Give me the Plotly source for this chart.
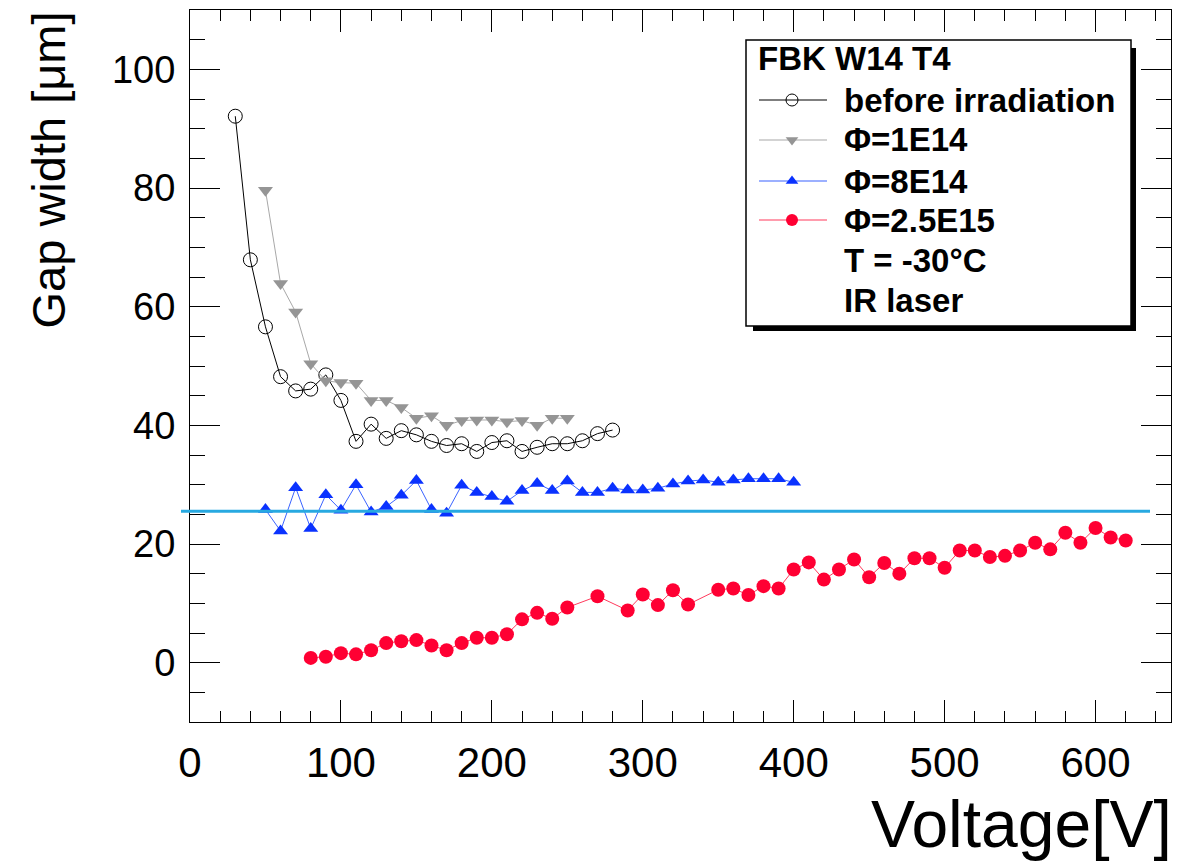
import plotly.graph_objects as go

# Gap width vs. bias voltage for FBK W14 T4 at several fluences
volt_before = [30, 40, 50, 60, 70, 80, 90, 100, 110, 120, 130, 140, 150, 160,
               170, 180, 190, 200, 210, 220, 230, 240, 250, 260, 270, 280]
gap_before = [92.1, 67.9, 56.6, 48.2, 45.8, 46.1, 48.5, 44.2, 37.3, 40.2, 37.8,
              39.1, 38.4, 37.3, 36.6, 36.9, 35.6, 37.1, 37.4, 35.6, 36.3, 36.9,
              36.9, 37.4, 38.6, 39.2]

volt_1e14 = [50, 60, 70, 80, 90, 100, 110, 120, 130, 140, 150, 160, 170, 180,
             190, 200, 210, 220, 230, 240, 250]
gap_1e14 = [79.6, 63.9, 59.1, 50.4, 47.5, 47.2, 47.1, 44.2, 44.2, 43.0, 41.2,
            41.6, 40.0, 40.8, 40.9, 40.9, 40.6, 40.8, 40.0, 41.2, 41.2]

volt_8e14 = [50, 60, 70, 80, 90, 100, 110, 120, 130, 140, 150, 160, 170, 180,
             190, 200, 210, 220, 230, 240, 250, 260, 270, 280, 290, 300, 310,
             320, 330, 340, 350, 360, 370, 380, 390, 400]
gap_8e14 = [25.8, 22.2, 29.5, 22.6, 28.3, 25.7, 30.0, 25.4, 26.3, 28.2, 30.7,
            25.8, 25.2, 29.9, 28.7, 28.0, 27.2, 29.0, 30.2, 29.0, 30.6, 28.7,
            28.7, 29.4, 29.1, 29.1, 29.4, 30.1, 30.6, 30.8, 30.4, 30.8, 31.0,
            31.0, 31.0, 30.4]

volt_25e15 = [80, 90, 100, 110, 120, 130, 140, 150, 160, 170, 180, 190, 200,
              210, 220, 230, 240, 250, 270, 290, 300, 310, 320, 330, 350, 360,
              370, 380, 390, 400, 410, 420, 430, 440, 450, 460, 470, 480, 490,
              500, 510, 520, 530, 540, 550, 560, 570, 580, 590, 600, 610, 620]
gap_25e15 = [0.8, 1.0, 1.6, 1.4, 2.1, 3.3, 3.6, 3.8, 2.9, 2.1, 3.3, 4.2, 4.2,
             4.8, 7.3, 8.4, 7.4, 9.3, 11.2, 8.8, 11.5, 9.7, 12.2, 9.8, 12.3,
             12.5, 11.4, 12.9, 12.5, 15.7, 16.9, 14.0, 15.7, 17.4, 14.4, 16.8,
             15.0, 17.6, 17.6, 16.0, 18.9, 18.9, 17.8, 18.0, 18.9, 20.2, 19.1,
             21.9, 20.2, 22.7, 21.1, 20.6]

# reference level drawn across the frame
ref_gap = 25.5

x_tick_vals = [0, 100, 200, 300, 400, 500, 600]
y_tick_vals = [0, 20, 40, 60, 80, 100]
x_range = [0, 650]
y_range = [-10, 110]

legend_title = "FBK W14 T4"
legend_names = ["before irradiation", "Φ=1E14", "Φ=8E14", "Φ=2.5E15"]
legend_notes = ["T = -30°C", "IR laser"]

# canvas / frame geometry (pixels)
W, H = 1178, 861
ML, MR, MT, MB = 190, 7, 10, 139
FX0, FX1 = ML, W - MR
FY0, FY1 = MT, H - MB


def px(x):
    """pixel column -> paper x"""
    return (x - FX0) / (FX1 - FX0)


def py(y):
    """pixel row -> paper y"""
    return (FY1 - y) / (FY1 - FY0)


SANS = "Liberation Sans, Arial, Helvetica, sans-serif"

styles = [
    dict(line=dict(color="#000000", width=1),
         marker=dict(symbol="circle-open", size=14, color="#000000",
                     line=dict(color="#000000", width=1))),
    dict(line=dict(color="#a8a8a8", width=1),
         marker=dict(symbol="triangle-down", size=13, color="#959595",
                     line=dict(width=0))),
    dict(line=dict(color="#3a63ff", width=1),
         marker=dict(symbol="triangle-up", size=13, color="#0a32ff",
                     line=dict(width=0))),
    dict(line=dict(color="#ff3a5c", width=1),
         marker=dict(symbol="circle", size=14, color="#ff0033",
                     line=dict(width=0))),
]

series = [(volt_before, gap_before), (volt_1e14, gap_1e14),
          (volt_8e14, gap_8e14), (volt_25e15, gap_25e15)]

fig = go.Figure()
for (vx, gy), st, name in zip(series, styles, legend_names):
    fig.add_trace(go.Scatter(x=vx, y=gy, mode="lines+markers", name=name,
                             line=st["line"], marker=st["marker"],
                             showlegend=False, cliponaxis=False))

# ---- legend box (pixel-space overlay x2/y2 for the glyph markers) ----
LX0, LY0, LX1, LY1 = 746, 40, 1131, 326
SHADOW = 5
row_y = [100, 140, 181, 220, 260, 300]
sample_x0, sample_x1, sample_mid = 759, 827, 792
text_x = 842

shapes = []
annotations = []

# horizontal reference line
yfrac = (ref_gap - y_range[0]) / (y_range[1] - y_range[0])
shapes.append(dict(type="line", xref="paper", yref="paper",
                   x0=px(181), x1=px(1150), y0=yfrac, y1=yfrac,
                   line=dict(color="#27a9e1", width=3), layer="above"))

shapes.append(dict(type="rect", xref="paper", yref="paper",
                   x0=px(LX0 + SHADOW + 2), x1=px(LX1 + SHADOW),
                   y0=py(LY0 + SHADOW + 3), y1=py(LY1 + SHADOW),
                   fillcolor="#000000", line=dict(width=0), layer="below"))
shapes.append(dict(type="rect", xref="paper", yref="paper",
                   x0=px(LX0), x1=px(LX1), y0=py(LY0), y1=py(LY1),
                   fillcolor="#ffffff",
                   line=dict(color="#000000", width=1.5), layer="below"))

bold = dict(family=SANS, size=33, color="#000000", weight="bold")
annotations.append(dict(xref="paper", yref="paper", x=px(756), y=py(58),
                        text=legend_title, showarrow=False,
                        xanchor="left", yanchor="middle", font=bold))

for i, (name, st) in enumerate(zip(legend_names, styles)):
    ry = row_y[i]
    shapes.append(dict(type="line", xref="paper", yref="paper",
                       x0=px(sample_x0), x1=px(sample_x1),
                       y0=py(ry), y1=py(ry),
                       line=dict(color=st["line"]["color"], width=1.2),
                       layer="below"))
    annotations.append(dict(xref="paper", yref="paper", x=px(text_x),
                            y=py(ry), text=name, showarrow=False,
                            xanchor="left", yanchor="middle", font=bold))
    m = dict(st["marker"])
    m["size"] = m["size"] - 2
    fig.add_trace(go.Scatter(x=[sample_mid], y=[ry], mode="markers",
                             marker=m, xaxis="x2", yaxis="y2",
                             showlegend=False, hoverinfo="skip",
                             cliponaxis=False))

for j, note in enumerate(legend_notes):
    annotations.append(dict(xref="paper", yref="paper", x=px(text_x),
                            y=py(row_y[len(legend_names) + j]), text=note,
                            showarrow=False, xanchor="left",
                            yanchor="middle", font=bold))

# axis titles, aligned to the far end of each axis
annotations.append(dict(xref="paper", yref="paper", x=px(48), y=py(10),
                        text="Gap width [μm]", textangle=-90,
                        showarrow=False, xanchor="center", yanchor="top",
                        font=dict(family=SANS, size=47, color="#000000")))
annotations.append(dict(xref="paper", yref="paper", x=px(1174), y=py(824),
                        text="Voltage[V]", showarrow=False,
                        xanchor="right", yanchor="middle",
                        font=dict(family=SANS, size=66, color="#000000")))

axis_common = dict(showgrid=False, zeroline=False, showline=True,
                   linecolor="#000000", linewidth=1, mirror="ticks",
                   ticks="inside", tickcolor="#000000", tickwidth=1)

fig.update_layout(
    width=W, height=H,
    margin=dict(l=ML, r=MR, t=MT, b=MB, pad=0),
    paper_bgcolor="#ffffff", plot_bgcolor="#ffffff",
    showlegend=False,
    xaxis=dict(range=x_range, tickvals=x_tick_vals, ticklen=22,
               tickfont=dict(family=SANS, size=42, color="#000000"),
               ticklabelstandoff=4,
               minor=dict(dtick=20, tick0=0, ticklen=11, ticks="inside",
                          tickcolor="#000000", tickwidth=1),
               **axis_common),
    yaxis=dict(range=y_range, tickvals=y_tick_vals, ticklen=30,
               tickfont=dict(family=SANS, size=38, color="#000000"),
               ticklabelstandoff=6,
               minor=dict(dtick=5, tick0=0, ticklen=15, ticks="inside",
                          tickcolor="#000000", tickwidth=1),
               **axis_common),
    xaxis2=dict(range=[FX0, FX1], overlaying="x", visible=False,
                fixedrange=True),
    yaxis2=dict(range=[FY1, FY0], overlaying="y", visible=False,
                fixedrange=True),
    shapes=shapes,
    annotations=annotations,
)

fig.write_html("out.html")
